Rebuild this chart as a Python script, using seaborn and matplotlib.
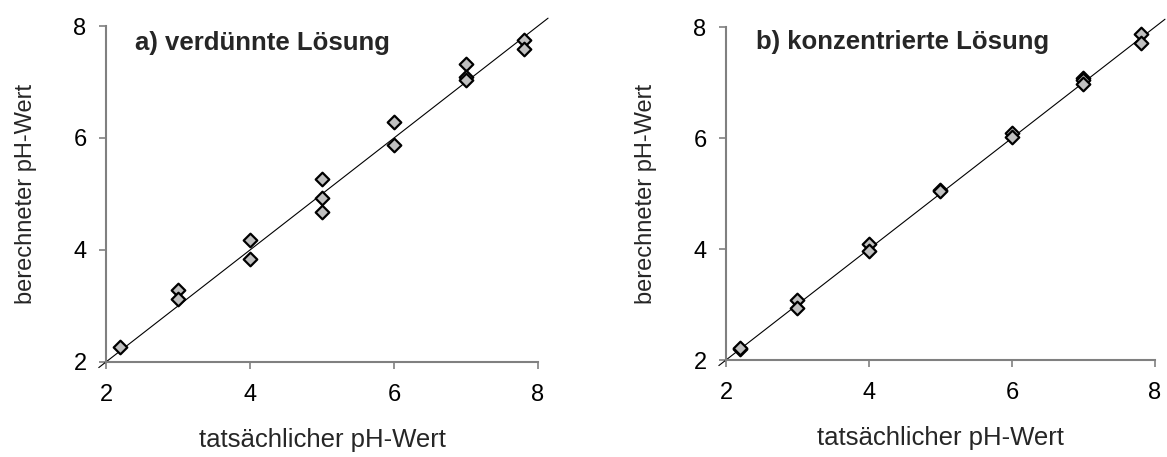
import matplotlib
matplotlib.use("Agg")
import matplotlib.pyplot as plt
import seaborn as sns
import pandas as pd

# Data
x_a = [2.2, 3, 3, 4, 4, 5, 5, 5, 6, 6, 7, 7, 7, 7.8, 7.8]
y_a = [2.27, 3.29, 3.13, 4.17, 3.84, 5.27, 4.92, 4.67, 6.28, 5.88, 7.32, 7.09, 7.04, 7.75, 7.59]

x_b = [2.2, 2.2, 3, 3, 4, 4, 5, 5, 6, 6, 7, 7, 7, 7.8, 7.8]
y_b = [2.19, 2.21, 3.08, 2.94, 4.09, 3.97, 5.07, 5.05, 6.09, 6.01, 7.09, 7.05, 6.97, 7.87, 7.72]

line_x = [1.9, 8.14]
ticks = [2, 4, 6, 8]
titles = ["a) verdünnte Lösung", "b) konzentrierte Lösung"]
xlabel = "tatsächlicher pH-Wert"
ylabel = "berechneter pH-Wert"

sns.set_theme(style="white")
plt.rcParams['font.family'] = ['Liberation Sans', 'DejaVu Sans']

fig = plt.figure(figsize=(11.67, 4.57), dpi=100)
axes = [fig.add_axes([0.0908, 0.2079, 0.3702, 0.7352]),
        fig.add_axes([0.6221, 0.2122, 0.3676, 0.7287])]

datasets = [(x_a, y_a), (x_b, y_b)]
title_pos = [(0.067, 0.95), (0.07, 0.955)]

for ax, (xs, ys), title, tp in zip(axes, datasets, titles, title_pos):
    df = pd.DataFrame({"x": xs, "y": ys})
    ax.plot(line_x, line_x, color="black", lw=0.8, clip_on=False, zorder=2)
    sns.scatterplot(data=df, x="x", y="y", ax=ax, marker="D", s=48,
                    color="#c0c0c0", edgecolor="black", linewidth=1.6,
                    zorder=3, clip_on=False)
    ax.set_xlim(2, 8)
    ax.set_ylim(2, 8)
    ax.set_xticks(ticks)
    ax.set_yticks(ticks)
    ax.set_xticklabels([str(t) for t in ticks])
    ax.set_yticklabels([str(t) for t in ticks])
    for side in ["top", "right"]:
        ax.spines[side].set_visible(False)
    for side in ["left", "bottom"]:
        ax.spines[side].set_color("#808080")
        ax.spines[side].set_linewidth(1.5)
    ax.tick_params(axis="both", direction="out", length=5, width=1.2,
                   color="#808080", labelsize=17, labelcolor="black",
                   bottom=True, left=True)
    ax.tick_params(axis="x", pad=11)
    ax.tick_params(axis="y", pad=9)
    ax.set_xlabel(xlabel, fontsize=18.5, labelpad=16)
    ax.set_ylabel(ylabel, fontsize=17, labelpad=26)
    ax.text(tp[0], tp[1], title, transform=ax.transAxes, fontsize=18.5,
            fontweight="bold", ha="left", va="center")
    ax.grid(False)

fig.savefig("out.png", dpi=100, facecolor="white")
